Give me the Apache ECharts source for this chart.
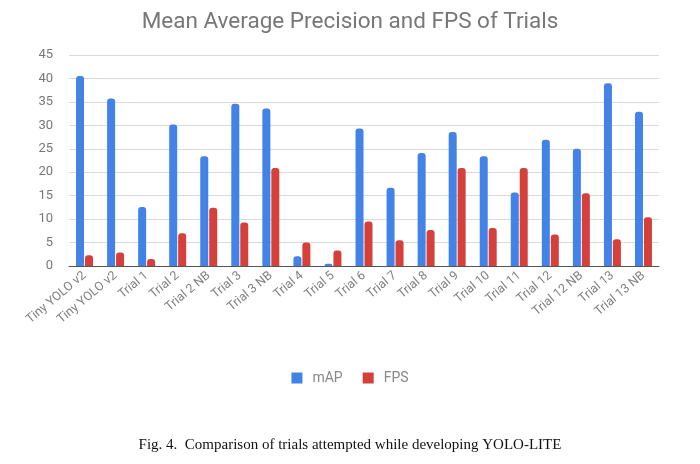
<!DOCTYPE html>
<html><head><meta charset="utf-8">
<script src="https://cdn.jsdelivr.net/npm/echarts@6/dist/echarts.min.js"></script>
<style>html,body{margin:0;padding:0;background:#fff;}#c{width:700px;height:464px;}</style>
</head><body><div id="c"></div>
<script>
const categories = ["Tiny YOLO v2","Tiny YOLO v2","Trial 1","Trial 2","Trial 2 NB","Trial 3","Trial 3 NB","Trial 4","Trial 5","Trial 6","Trial 7","Trial 8","Trial 9","Trial 10","Trial 11","Trial 12","Trial 12 NB","Trial 13","Trial 13 NB"];
const mAP = [40.5,35.7,12.6,30.2,23.4,34.6,33.6,2.1,0.5,29.3,16.7,24.1,28.6,23.4,15.7,26.9,25.0,39.0,32.9];
const FPS = [2.3,2.9,1.5,7.0,12.4,9.3,20.9,5.0,3.3,9.5,5.5,7.7,20.9,8.1,20.9,6.7,15.5,5.7,10.4];
const yTicks = [0,5,10,15,20,25,30,35,40,45];
const chart = echarts.init(document.getElementById('c'));
chart.setOption({
  animation:false,
  title:[{text:'Mean Average Precision and FPS of Trials',left:'center',top:6,
    textStyle:{fontFamily:'Roboto',fontWeight:'normal',fontSize:22.5,color:'#777'}},
    {text:'Fig. 4.  Comparison of trials attempted while developing YOLO-LITE',left:'center',top:433,
    textStyle:{fontFamily:'Liberation Serif',fontWeight:'normal',fontSize:15,color:'#111'}}],
  legend:{data:['mAP','FPS'],top:366,left:'center',itemWidth:11,itemHeight:11,itemGap:20,icon:'rect',
    textStyle:{fontFamily:'Roboto',fontSize:14,color:'#888',padding:[0,0,0,5]}},
  grid:{left:69,right:41,top:55,bottom:198,containLabel:false},
  xAxis:{type:'category',data:categories,
    axisLine:{lineStyle:{color:'#555',width:1}},axisTick:{show:false},
    axisLabel:{rotate:40,interval:0,fontFamily:'Roboto',fontSize:12.5,color:'#808080',margin:8}},
  yAxis:{type:'value',min:0,max:45,interval:5,
    axisLabel:{fontFamily:'Roboto',fontSize:13,color:'#777',margin:16,
      formatter:v=>yTicks.includes(v)?String(v):''},
    axisLine:{show:false},axisTick:{show:false},
    splitLine:{lineStyle:{color:'#dadada',width:1}}},
  series:[
    {name:'mAP',type:'bar',data:mAP,barWidth:8,barGap:'12%',
      itemStyle:{color:'#4382e6',borderRadius:[3,3,0,0]}},
    {name:'FPS',type:'bar',data:FPS,barWidth:8,
      itemStyle:{color:'#d6403a',borderRadius:[3,3,0,0]}}
  ]
});
</script></body></html>
